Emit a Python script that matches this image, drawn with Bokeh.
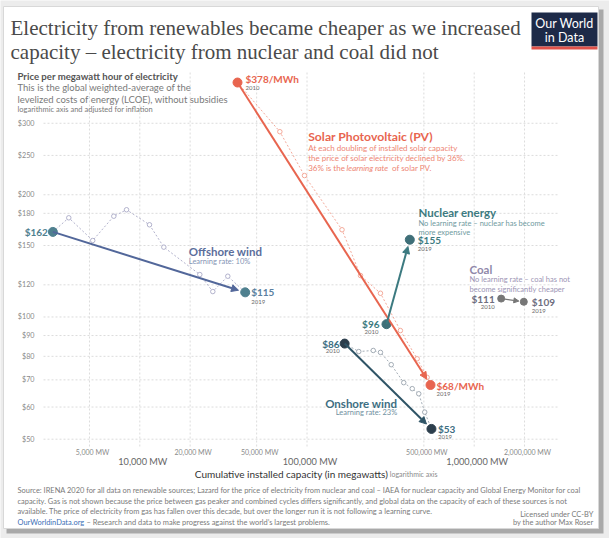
import math
from bokeh.plotting import figure
from bokeh.models import Range1d, Label, Arrow, NormalHead, ColumnDataSource
from bokeh.core.properties import value
from bokeh.embed import file_html
from bokeh.resources import INLINE

# ---------------- data ----------------
solar_cap = [38400, 68800, 96600, 162000, 209000, 275000, 362000, 456000, 523000, 548000]
solar_price = [378, 286, 223, 164, 126.5, 114.4, 92.6, 78.9, 71, 68]

onshore_cap = [168000, 204000, 249000, 275000, 319000, 379000, 426000, 466000, 506000, 555000]
onshore_price = [86, 82.2, 82.7, 81.8, 76.3, 68.9, 66.6, 64.7, 58.3, 53]

offshore_cap = [3020, 3760, 5230, 6990, 8330, 11430, 13920, 22850, 27330, 33600, 42700]
offshore_price = [162, 175.5, 154.3, 177.1, 183.7, 168.7, 148.6, 127.2, 115.5, 126, 115]

nuclear_cap = [298800, 412000]
nuclear_price = [96, 155]

coal_cap = [1450000, 1980000]
coal_price = [111, 109]

y_ticks = [50, 60, 70, 80, 90, 100, 120, 150, 180, 200, 250, 300]
x_small_ticks = [5000, 20000, 50000, 500000, 2000000]
x_big_ticks = [10000, 100000, 1000000]

# ---------------- layout ----------------
W, H = 609, 538
PX10K, KX = 139.3, 167.2     # canvas x of 10,000 MW, pixels per decade
PY50, KY = 438.7, 406.0      # canvas y of $50, pixels per decade
def cap_at(px):
    return 1e4 * 10 ** ((px - PX10K) / KX)
def price_at(py):
    return 50 * 10 ** ((PY50 - py) / KY)

FL, FT, FR, FB = 43, 72, 557, 446   # plot area (canvas pixels)

p = figure(width=W, height=H, x_axis_type="log", y_axis_type="log",
           x_range=Range1d(cap_at(0), cap_at(W)), y_range=Range1d(price_at(H), price_at(0)),
           x_axis_location=None, y_axis_location=None,
           output_backend="svg", toolbar_location=None,
           min_border=0, min_border_left=0, min_border_right=0,
           min_border_top=0, min_border_bottom=0)
p.outline_line_color = None
p.background_fill_color = "#ececec"
p.border_fill_color = "#ececec"
for g in list(p.xgrid) + list(p.ygrid):
    g.grid_line_color = None

def box(l, t, r, b, color, line=None):
    p.quad(left=[cap_at(l)], right=[cap_at(r)], top=[price_at(t)], bottom=[price_at(b)],
           fill_color=color, line_color=line)

# card with shadow
box(6, 9, 603, 533, "#a9a9a9")
box(3, 6, 598, 528, "white", "#d8d8d8")

# grid
xL, xR, yT, yB = cap_at(FL), cap_at(FR), price_at(FT), price_at(FB)
x_all = sorted(x_small_ticks + x_big_ticks)
p.segment(x0=[xL] * len(y_ticks), y0=y_ticks, x1=[xR] * len(y_ticks), y1=y_ticks,
          line_color="#dcdcdc", line_width=1, line_dash="2 2")
p.segment(x0=x_all, y0=[yB] * len(x_all), x1=x_all, y1=[yT] * len(x_all),
          line_color="#dcdcdc", line_width=1, line_dash="2 2")

# tick labels
p.text(x=[cap_at(34)] * len(y_ticks), y=y_ticks, text=[f"${t}" for t in y_ticks],
       text_align="right", text_baseline="middle", text_font=value("Lato"),
       text_font_size="7.2px", text_color="#8a8a8a")
p.text(x=x_small_ticks, y=[price_at(451.5)] * len(x_small_ticks),
       text=[f"{t:,} MW" for t in x_small_ticks], x_offset=3,
       text_align="center", text_baseline="middle", text_font=value("Lato"),
       text_font_size="7px", text_color="#8a8a8a")
p.text(x=x_big_ticks, y=[price_at(461)] * len(x_big_ticks),
       text=[f"{t:,} MW" for t in x_big_ticks], x_offset=3,
       text_align="center", text_baseline="middle", text_font=value("Lato"),
       text_font_size="9.2px", text_color="#666666")

# ---------------- series ----------------
XD = math.log10(p.x_range.end / p.x_range.start)
YD = math.log10(p.y_range.end / p.y_range.start)
PXD, PYD = W / XD, H / YD

def shortened(xa, ya_, xb, yb, s):
    lx, ly = math.log10(xb / xa), math.log10(yb / ya_)
    L = math.hypot(lx * PXD, ly * PYD)
    f = (L - s) / L
    return xa * 10 ** (lx * f), ya_ * 10 ** (ly * f)

def arrow(xs, ys, color, width, s=7, head=7):
    xe, ye = shortened(xs[0], ys[0], xs[-1], ys[-1], s)
    src = ColumnDataSource(dict(x0=[xs[0]], y0=[ys[0]], x1=[xe], y1=[ye]))
    p.add_layout(Arrow(source=src, x_start="x0", y_start="y0", x_end="x1", y_end="y1",
                       line_color=color, line_width=width,
                       end=NormalHead(size=head, fill_color=color, line_color=color, line_width=1)))

def dashed(xs, ys, color):
    p.line(xs, ys, line_color=color, line_width=0.9, line_dash="2 2")
    p.scatter(xs[1:-1], ys[1:-1], marker="circle", size=4.5, fill_color="white",
              line_color=color, line_width=0.9)

def dots(xs, ys, color, size=9):
    p.scatter([xs[0], xs[-1]], [ys[0], ys[-1]], marker="circle", size=size,
              fill_color=color, line_color=color)

SOLAR = "#e8654f"
OFF_LINE, OFF_DOT, OFF_TXT = "#52679a", "#4f808f", "#5b6e9b"
NUC = "#3c7a80"
ON_LINE, ON_DOT, ON_TXT = "#2f5466", "#2c3e4c", "#3d6e82"
COAL_TXT, COAL_DOT = "#9088aa", "#777777"

dashed(offshore_cap, offshore_price, "#a9a9c6")
dashed(solar_cap, solar_price, "#f2a090")
dashed(onshore_cap, onshore_price, "#9aa4ae")

arrow(offshore_cap, offshore_price, OFF_LINE, 2)
arrow(solar_cap, solar_price, SOLAR, 2)
arrow(onshore_cap, onshore_price, ON_LINE, 2)
arrow(nuclear_cap, nuclear_price, NUC, 2)
arrow(coal_cap, coal_price, COAL_DOT, 1.3, s=5, head=5)

dots(offshore_cap, offshore_price, OFF_DOT)
dots(solar_cap, solar_price, SOLAR)
dots(onshore_cap, onshore_price, ON_DOT)
dots(nuclear_cap, nuclear_price, "#3f6f78")
dots(coal_cap, coal_price, COAL_DOT, size=7)

# ---------------- text helpers ----------------
def T(text, X, Y, size, color, font="Lato", style="normal", align="left"):
    p.add_layout(Label(x=X, y=H - Y, x_units="screen", y_units="screen", text=text,
                       text_font=font, text_font_size=f"{size}px", text_color=color,
                       text_font_style=style, text_align=align, text_baseline="middle"))

def DL(text, x, y, dx, dy, size, color, style="bold", align="left"):
    p.add_layout(Label(x=x, y=y, x_offset=dx, y_offset=-dy, text=text, text_font="Lato",
                       text_font_size=f"{size}px", text_color=color, text_font_style=style,
                       text_align=align, text_baseline="middle"))

YR = "#6a6a6a"
DL(f"${solar_price[0]}/MWh", solar_cap[0], solar_price[0], 8, -4, 10, SOLAR)
DL("2010", solar_cap[0], solar_price[0], 8, 5, 6, YR, "normal")
DL(f"${solar_price[-1]}/MWh", solar_cap[-1], solar_price[-1], 6, 1, 10, SOLAR)
DL("2019", solar_cap[-1], solar_price[-1], 6, 9, 6, YR, "normal")

DL(f"${offshore_price[0]}", offshore_cap[0], offshore_price[0], -5, 0, 10, OFF_DOT, align="right")
DL(f"${offshore_price[-1]}", offshore_cap[-1], offshore_price[-1], 6, 0, 10, "#5a7fa0")
DL("2019", offshore_cap[-1], offshore_price[-1], 6, 9.5, 6, YR, "normal")

DL(f"${nuclear_price[0]}", nuclear_cap[0], nuclear_price[0], -7, 0, 10, NUC, align="right")
DL("2010", nuclear_cap[0], nuclear_price[0], -8, 8, 6, YR, "normal", align="right")
DL(f"${nuclear_price[-1]}", nuclear_cap[-1], nuclear_price[-1], 8, 0.5, 10, NUC)
DL("2019", nuclear_cap[-1], nuclear_price[-1], 8, 9.5, 6, YR, "normal")

DL(f"${onshore_price[0]}", onshore_cap[0], onshore_price[0], -5, 0, 10, ON_TXT, align="right")
DL("2010", onshore_cap[0], onshore_price[0], -5, 7.5, 6, YR, "normal", align="right")
DL(f"${onshore_price[-1]}", onshore_cap[-1], onshore_price[-1], 6.5, 0.3, 10, ON_TXT)
DL("2019", onshore_cap[-1], onshore_price[-1], 6.5, 8.5, 6, YR, "normal")

DL(f"${coal_price[0]}", coal_cap[0], coal_price[0], -6.5, 0, 10, "#6e6e80", align="right")
DL("2010", coal_cap[0], coal_price[0], -6.5, 8, 6, YR, "normal", align="right")
DL(f"${coal_price[-1]}", coal_cap[-1], coal_price[-1], 8, 0.3, 10, "#6e6e80")
DL("2019", coal_cap[-1], coal_price[-1], 8, 9, 6, YR, "normal")

# series annotations
SOL_D = "#ee8573"
T("Solar Photovoltaic (PV)", 307.7, 136, 12.2, SOLAR, style="bold")
T("At each doubling of installed solar capacity", 307.7, 147.7, 8, SOL_D)
T("the price of solar electricity declined by 36%.", 307.7, 157.7, 8, SOL_D)
T("36% is the", 307.7, 167.7, 8, SOL_D)
T("learning rate", 346, 167.7, 8, SOL_D, style="italic")
T("of solar PV.", 391.5, 167.7, 8, SOL_D)

T("Nuclear energy", 418, 212, 11.5, NUC, style="bold")
T("No learning rate \u2013 nuclear has become", 418, 223, 7.5, "#6f9aa0")
T("more expensive", 418, 232, 7.5, "#6f9aa0")

T("Coal", 469, 269, 11.5, COAL_TXT, style="bold")
T("No learning rate \u2013 coal has not", 469, 279, 7.5, "#9d95b5")
T("become significantly cheaper", 469, 289, 7.5, "#9d95b5")

T("Offshore wind", 188.3, 250.7, 11.5, OFF_TXT, style="bold")
T("Learning rate: 10%", 188.3, 260.7, 7.5, "#8494b4")

T("Onshore wind", 396.7, 402.7, 11.5, ON_TXT, style="bold", align="right")
T("Learning rate: 23%", 396.7, 412, 7.5, "#6f8fa0", align="right")

# header
TITLE = "#4a4a4a"
T("Electricity from renewables became cheaper as we increased", 10, 27.5, 21, TITLE, font="Liberation Serif")
T("capacity \u2013 electricity from nuclear and coal did not", 10, 51, 21, TITLE, font="Liberation Serif")
T("Price per megawatt hour of electricity", 17, 75.5, 9.6, "#555555", style="bold")
T("This is the global weighted-average of the", 17, 87.3, 9.5, "#7a7a7a")
T("levelized costs of energy (LCOE), without subsidies", 17, 98.5, 9.5, "#7a7a7a")
T("logarithmic axis and adjusted for inflation", 17, 108.5, 7.5, "#7a7a7a")

# logo
box(531, 12, 597, 46, "#1d2a48")
box(531, 46, 597, 49, "#e0524a")
T("Our World", 564, 23, 12.5, "white", align="center")
T("in Data", 564, 37, 12.5, "white", align="center")

# footer
T("Cumulative installed capacity (in megawatts)", 194.3, 473.3, 10, "#333333")
T("logarithmic axis", 389.3, 473.8, 7, "#8a8a8a")
SRC = "#7a7a7a"
FS = 7.45
T("Source: IRENA 2020 for all data on renewable sources; Lazard for the price of electricity from nuclear and coal \u2013 IAEA for nuclear capacity and Global Energy Monitor for coal", 17, 490, FS, SRC)
T("capacity. Gas is not shown because the price between gas peaker and combined cycles differs significantly, and global data on the capacity of each of these sources is not", 17, 500.5, FS, SRC)
T("available. The price of electricity from gas has fallen over this decade, but over the longer run it is not following a learning curve.", 17, 511, FS, SRC)
T("OurWorldinData.org", 17, 521.5, FS, "#3d6fb6")
T("\u2013 Research and data to make progress against the world\u2019s largest problems.", 86, 521.5, FS, SRC)
T("Licensed under CC-BY", 593, 514, FS, SRC, align="right")
T("by the author Max Roser", 593, 522, FS, SRC, align="right")

open("out.html", "w").write(file_html(p, INLINE))
